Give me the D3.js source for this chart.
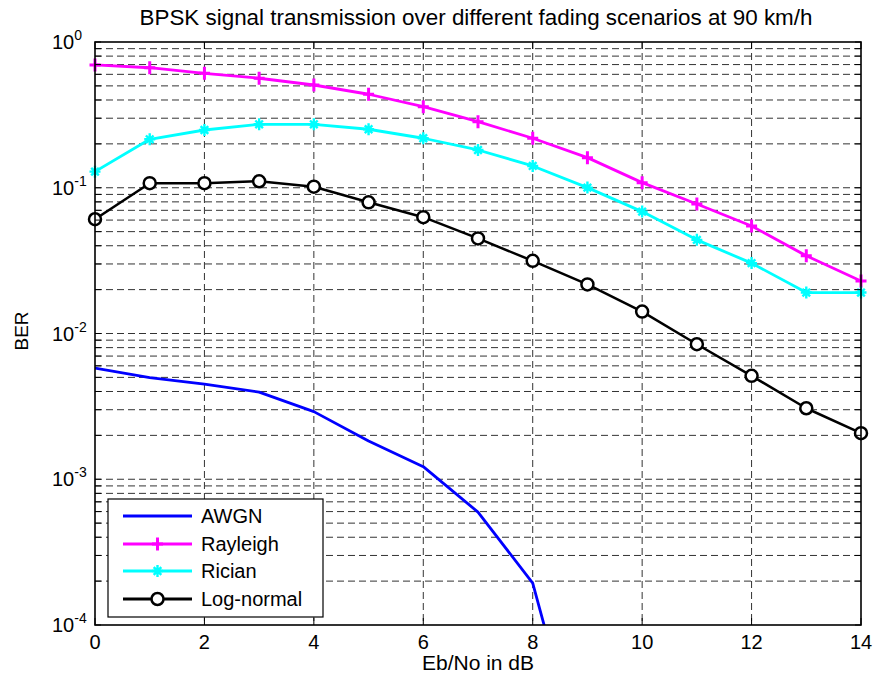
<!DOCTYPE html>
<html><head><meta charset="utf-8">
<script src="https://cdn.jsdelivr.net/npm/d3@7/dist/d3.min.js"></script>
<style>
html,body{margin:0;padding:0;background:#fff;}
svg{display:block;font-family:"Liberation Sans",Arial,Helvetica,sans-serif;}
</style></head>
<body>
<svg id="chart" width="875" height="681"></svg>
<script>
const ebno = [0,1,2,3,4,5,6,7,8,9,10,11,12,13,14];
const awgnX = [0,1,2,3,4,5,6,7,8,9];
const awgn = [0.00578,0.00498,0.00449,0.00396,0.00291,0.00183,0.00122,0.000595,0.000194,0.000008];
const rayleigh = [0.696,0.666,0.610,0.564,0.507,0.438,0.360,0.284,0.2186,0.1609,0.1084,0.0774,0.0547,0.0341,0.02295];
const rician = [0.129,0.215,0.249,0.2725,0.2725,0.252,0.2186,0.1816,0.1411,0.1002,0.0686,0.0439,0.0304,0.0191,0.0191];
const lognormal = [0.0608,0.1074,0.1074,0.1108,0.1017,0.0795,0.0628,0.0449,0.0315,0.0217,0.01413,0.00844,0.00512,0.00307,0.00207];
const xTicks = [0,2,4,6,8,10,12,14];
const yDecades = [-4,-3,-2,-1,0];
const titleText = "BPSK signal transmission over different fading scenarios at 90 km/h";
const xLabel = "Eb/No in dB";
const yLabel = "BER";
const seriesNames = ["AWGN","Rayleigh","Rician","Log-normal"];

const svg = d3.select("#chart");
const m = {left:95, top:42, right:861, bottom:625};
const x = d3.scaleLinear().domain([0,14]).range([m.left, m.right]);
const y = d3.scaleLog().domain([1e-4,1]).range([m.bottom, m.top]);
const W = m.right-m.left, H = m.bottom-m.top;

const yAll = [];
yDecades.forEach(d => { if (d < 0) for (let k=1;k<=9;k++) yAll.push(k*Math.pow(10,d)); });
yAll.push(1);

svg.append("rect").attr("x",m.left).attr("y",m.top).attr("width",W).attr("height",H).attr("fill","#fff");

// grid
const grid = svg.append("g").attr("stroke","#333").attr("stroke-width",1).attr("stroke-dasharray","7,4").attr("fill","none");
xTicks.filter(t => t>0 && t<14).forEach(t => {
  grid.append("line").attr("x1",x(t)).attr("x2",x(t)).attr("y1",m.top).attr("y2",m.bottom);
});
yAll.filter(v => v>1e-4 && v<1).forEach(v => {
  grid.append("line").attr("x1",m.left).attr("x2",m.right).attr("y1",y(v)).attr("y2",y(v));
});

svg.append("clipPath").attr("id","clip").append("rect").attr("x",m.left).attr("y",m.top).attr("width",W).attr("height",H);
const plot = svg.append("g").attr("clip-path","url(#clip)");

const line = d3.line().x(d=>x(d[0])).y(d=>y(d[1]));
const series = [
  {name:"AWGN", color:"#0000ff", xs:awgnX, ys:awgn, marker:null},
  {name:"Rayleigh", color:"#ff00ff", xs:ebno, ys:rayleigh, marker:"plus"},
  {name:"Rician", color:"#00ffff", xs:ebno, ys:rician, marker:"star"},
  {name:"Log-normal", color:"#000000", xs:ebno, ys:lognormal, marker:"circle"}
];
const markerPath = {
  plus: "M-5.5,0H5.5M0,-6.5V6.5",
  star: "M-5.5,0H5.5M0,-6V6M-3.8,-3.8L3.8,3.8M-3.8,3.8L3.8,-3.8"
};
function drawMarker(g, type, cx, cy, color){
  if (type === "circle") {
    g.append("circle").attr("cx",cx).attr("cy",cy).attr("r",6).attr("fill","#fff").attr("stroke",color).attr("stroke-width",2.5);
  } else if (type) {
    g.append("path").attr("d",markerPath[type]).attr("transform",`translate(${cx},${cy})`).attr("stroke",color).attr("stroke-width",type==="plus"?3:2.4).attr("fill","none");
  }
}
series.forEach(s => {
  const pts = s.xs.map((xv,i)=>[xv,s.ys[i]]);
  plot.append("path").datum(pts).attr("d",line).attr("fill","none").attr("stroke",s.color).attr("stroke-width",s.name==="Log-normal"?2.5:2.8).attr("stroke-linejoin","round");
});
series.forEach(s => {
  if (!s.marker) return;
  s.xs.forEach((xv,i) => drawMarker(svg, s.marker, x(xv), y(s.ys[i]), s.color));
});

// axes box and ticks
const ax = svg.append("g").attr("stroke","#000").attr("fill","none");
ax.append("rect").attr("x",m.left).attr("y",m.top).attr("width",W).attr("height",H).attr("stroke-width",1.6);
xTicks.forEach(t => {
  ax.append("line").attr("x1",x(t)).attr("x2",x(t)).attr("y1",m.bottom).attr("y2",m.bottom-7).attr("stroke-width",1);
  ax.append("line").attr("x1",x(t)).attr("x2",x(t)).attr("y1",m.top).attr("y2",m.top+7).attr("stroke-width",1);
});
yAll.forEach(v => {
  ax.append("line").attr("x1",m.left).attr("x2",m.left+6).attr("y1",y(v)).attr("y2",y(v)).attr("stroke-width",1);
  ax.append("line").attr("x1",m.right).attr("x2",m.right-6).attr("y1",y(v)).attr("y2",y(v)).attr("stroke-width",1);
});

// tick labels
const xAxisG = svg.append("g").attr("font-size",20).attr("fill","#000").attr("text-anchor","middle");
xTicks.forEach(t => xAxisG.append("text").attr("x",x(t)).attr("y",649).text(t));
const yAxisG = svg.append("g").attr("fill","#000");
yDecades.forEach(d => {
  const t = yAxisG.append("text").attr("x",52).attr("y",y(Math.pow(10,d))+7).attr("font-size",20);
  t.append("tspan").text("10");
  t.append("tspan").attr("font-size",14).attr("dy",-9).text(String(d));
});

// title and labels
svg.append("text").attr("x",476).attr("y",25).attr("text-anchor","middle").attr("font-size",22.4).attr("fill","#000").text(titleText);
svg.append("text").attr("x",478).attr("y",670).attr("text-anchor","middle").attr("font-size",21).attr("fill","#000").text(xLabel);
svg.append("text").attr("transform","translate(28,331) rotate(-90)").attr("text-anchor","middle").attr("font-size",19).attr("fill","#000").text(yLabel);

// legend
const lg = svg.append("g");
lg.append("rect").attr("x",108).attr("y",499).attr("width",215).attr("height",118).attr("fill","#fff").attr("stroke","#000").attr("stroke-width",1.2);
const rowY = [516,544,571,599];
series.forEach((s,i) => {
  lg.append("line").attr("x1",123).attr("x2",192).attr("y1",rowY[i]).attr("y2",rowY[i]).attr("stroke",s.color).attr("stroke-width",2.8);
  drawMarker(lg, s.marker, 157.5, rowY[i], s.color);
  lg.append("text").attr("x",201).attr("y",rowY[i]+7).attr("font-size",20).attr("fill","#000").text(seriesNames[i]);
});
</script>
</body></html>
